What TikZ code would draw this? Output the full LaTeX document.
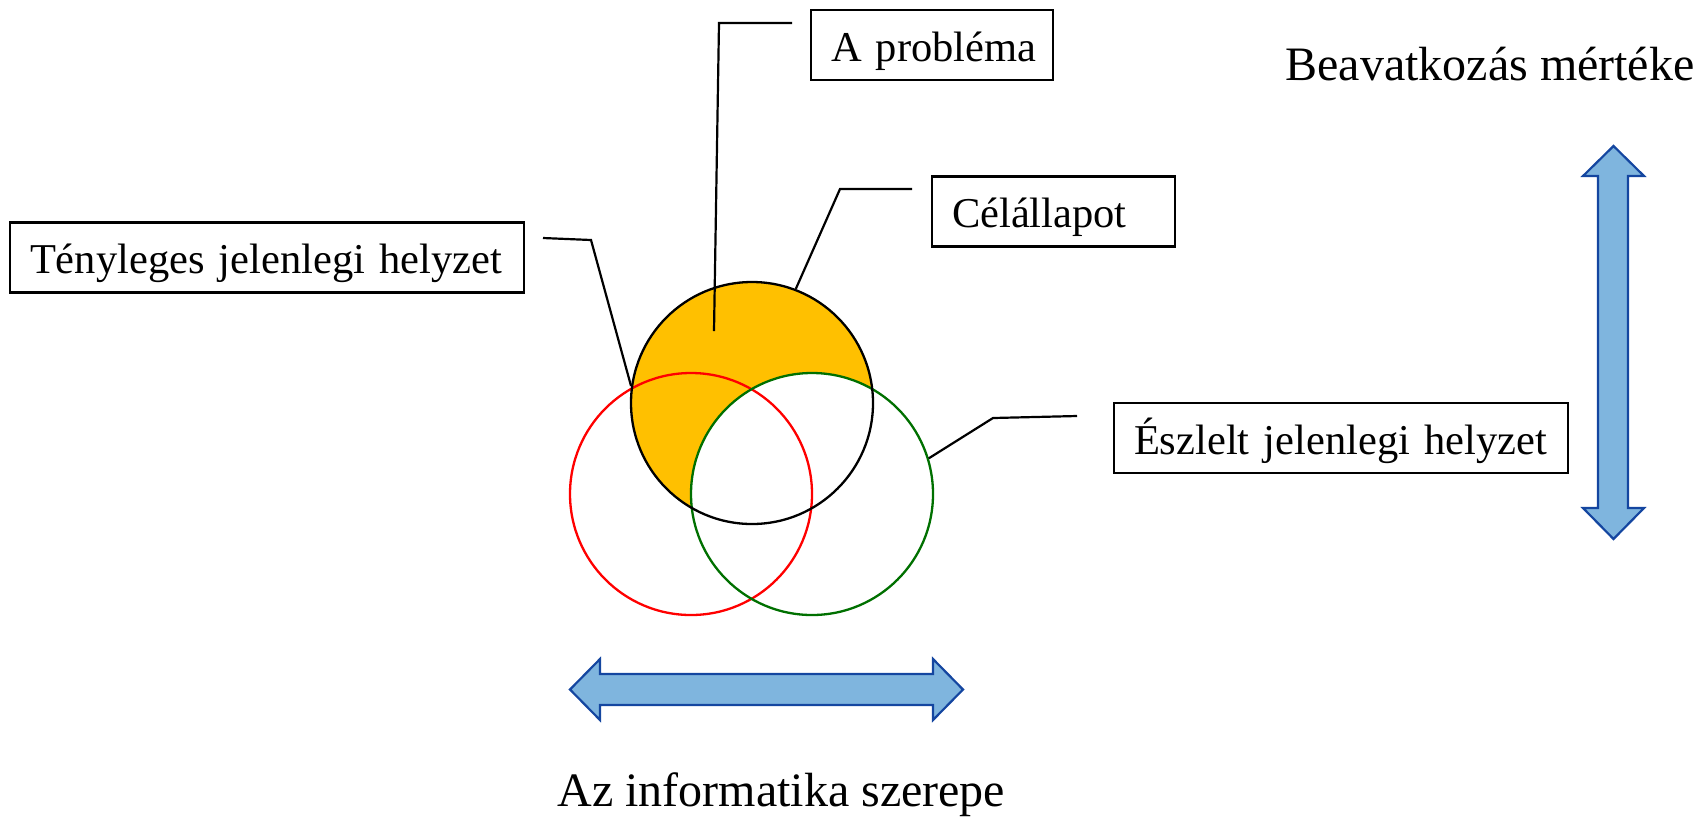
\documentclass[tikz,border=0pt]{standalone}
\usepackage{fontspec}
\setmainfont{Liberation Serif}
\definecolor{goldfill}{RGB}{255,192,0}
\definecolor{arrowfill}{RGB}{127,181,222}
\definecolor{arrowline}{RGB}{20,70,160}
\definecolor{darkgreen}{RGB}{0,112,0}
\begin{document}
\begin{tikzpicture}[x=0.5pt,y=-0.5pt,
  boxlbl/.style={draw, line width=1.3pt, rectangle, inner xsep=10pt, inner ysep=0pt,
    minimum height=35pt, text height=21pt, text depth=5pt, align=left,
    font=\fontsize{21.25pt}{25pt}\selectfont},
  leader/.style={line width=1.1pt},
  bigtxt/.style={font=\fontsize{24pt}{28pt}\selectfont, inner sep=0pt, anchor=base west},
  venn/.style={circle, draw, line width=1.15pt, minimum size=121pt, inner sep=0pt},
  dblarrow/.style={fill=arrowfill, draw=arrowline, line width=1.1pt, line join=miter}]
\useasboundingbox (0,0) rectangle (1707,816);

% orange region: goal circle minus perceived circle
\begin{scope}
  \clip (752,403) circle[radius=121];
  \fill[goldfill, even odd rule] (752,403) circle[radius=121] (812,494) circle[radius=121];
\end{scope}

% circles
\node[venn, draw=red] (actual) at (691,494) {};
\node[venn, draw=darkgreen] (perceived) at (812,494) {};
\node[venn, draw=black] (goal) at (752,403) {};

% label boxes
\node[boxlbl, text width=101pt] (prob) at (932,45) {\mbox{A probléma}};
\node[boxlbl, text width=101.5pt] (cel) at (1053.5,211.5) {\mbox{Célállapot}};
\node[boxlbl, text width=237pt] (teny) at (267,257.5) {\mbox{Tényleges jelenlegi helyzet}};
\node[boxlbl, text width=207pt] (eszl) at (1341,438) {\mbox{Észlelt jelenlegi helyzet}};

% leader lines
\coordinate (probpt) at (714,331);
\coordinate (probend) at (792,23);
\coordinate (celend) at (912,189);
\coordinate (tenyend) at (543,238);
\coordinate (eszlend) at (1077,416);
\draw[leader] (probpt) -- (719,23) -- (probend);
\draw[leader] (goal.69) -- (840,189) -- (celend);
\draw[leader] (goal.172) -- (591,240) -- (tenyend);
\draw[leader] (perceived.17) -- (993,418) -- (eszlend);

% double arrows
\draw[dblarrow] (1613.5,146) -- (1644,176) -- (1628,176) -- (1628,508) -- (1644,508)
  -- (1613.5,539) -- (1583,508) -- (1598,508) -- (1598,176) -- (1583,176) -- cycle;
\draw[dblarrow] (570,689.5) -- (600,659) -- (600,674) -- (933,674) -- (933,659)
  -- (963,689.5) -- (933,720) -- (933,705) -- (600,705) -- (600,720) -- cycle;

% free texts
\node[bigtxt] (beav) at (1285,80) {Beavatkozás mértéke};
\node[bigtxt] (info) at (557,806) {Az informatika szerepe};
\end{tikzpicture}
\end{document}
